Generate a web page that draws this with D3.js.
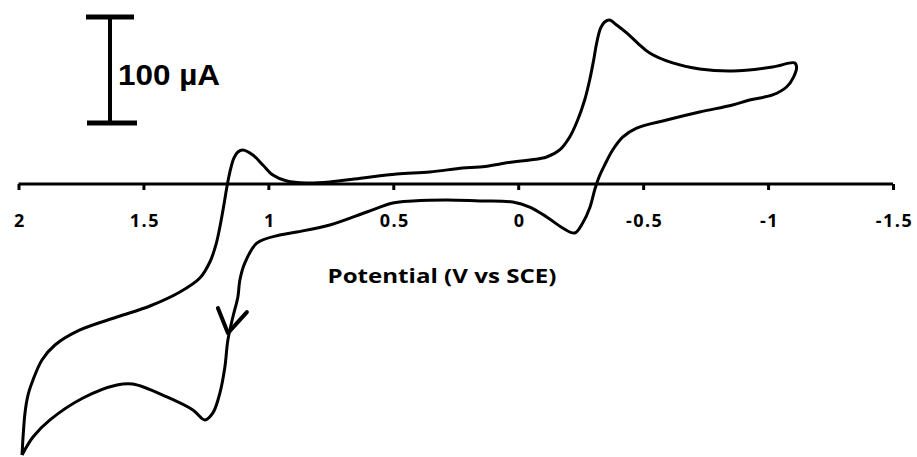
<!DOCTYPE html>
<html>
<head>
<meta charset="utf-8">
<script src="https://cdn.jsdelivr.net/npm/d3@7"></script>
<style>
  body { margin: 0; background: #fff; }
  svg { display: block; }
</style>
</head>
<body>
<div id="chart"></div>
<script>
// cyclic voltammogram (V vs SCE, µA)
const potential = [
  1.986, 1.974, 1.962, 1.942, 1.906, 1.854, 1.754, 1.606, 1.474, 1.354,
  1.274, 1.234, 1.210, 1.194, 1.178, 1.166, 1.154, 1.138, 1.122, 1.102,
  1.062, 1.022, 0.982, 0.926, 0.846, 0.754, 0.622, 0.486, 0.354, 0.222,
  0.154, 0.022, -0.046, -0.114, -0.166, -0.206, -0.238, -0.266, -0.286, -0.302,
  -0.314, -0.330, -0.346, -0.366, -0.394, -0.434, -0.478, -0.526, -0.618, -0.726,
  -0.858, -1.018, -1.106, -1.114, -1.102, -1.074, -1.018, -0.926, -0.858, -0.726,
  -0.594, -0.474, -0.418, -0.378, -0.346, -0.322, -0.306, -0.286, -0.258, -0.226,
  -0.178, -0.114, -0.046, 0.022, 0.154, 0.286, 0.422, 0.502, 0.606, 0.754,
  0.886, 0.954, 1.046, 1.094, 1.114, 1.122, 1.142, 1.162, 1.174, 1.194,
  1.222, 1.254, 1.302, 1.406, 1.542, 1.606, 1.742, 1.874, 1.942, 1.986
]
const current = [
  -255.7, -216.0, -199.1, -184.9, -166.0, -151.9, -137.7, -125.5, -115.1, -101.9,
  -88.7, -73.6, -57.5, -40.6, -19.8, -2.8, 11.3, 24.5, 30.2, 32.1,
  27.4, 17.9, 8.5, 2.8, 0.9, 1.9, 5.7, 9.4, 11.3, 15.1,
  16.0, 20.8, 22.6, 25.5, 32.1, 44.3, 60.4, 79.2, 98.1, 117.0,
  133.0, 147.2, 152.8, 154.7, 150.0, 142.5, 133.0, 123.6, 114.2, 108.5,
  106.6, 110.4, 114.2, 110.4, 100.9, 91.5, 84.0, 79.2, 74.5, 67.9,
  60.4, 52.8, 44.3, 32.1, 17.9, 5.7, -5.7, -22.6, -36.8, -46.2,
  -41.5, -31.1, -21.7, -17.0, -16.0, -15.1, -16.0, -17.9, -26.4, -38.7,
  -45.3, -48.1, -55.7, -74.5, -90.6, -106.6, -125.5, -147.2, -172.6, -197.2,
  -216.0, -222.6, -213.2, -200.9, -188.7, -189.6, -201.9, -222.6, -238.7, -255.7
]

const tickValues = [2, 1.5, 1, 0.5, 0, -0.5, -1, -1.5]
const tickLabels = ["2", "1.5", "1", "0.5", "0", "-0.5", "-1", "-1.5"]
const xTitle = "Potential (V vs SCE)"
const scaleBarLabel = "100 µA"
const scaleBarRange = [57.5, 157.5]   // µA
const arrowAt = [1.162, -140.6]       // V, µA

const width = 917
const height = 457

const svg = d3.select("#chart").append("svg")
  .attr("width", width)
  .attr("height", height)

const x = d3.scaleLinear().domain([2, -1.5]).range([18.5, 893])
const y = d3.scaleLinear().domain([0, 100]).range([184, 78])

// axis sits at zero current
const axis = svg.append("g")
  .attr("transform", `translate(0,${y(0)})`)
  .call(d3.axisBottom(x)
    .tickValues(tickValues)
    .tickSize(6)
    .tickSizeOuter(0)
    .tickFormat((d, i) => tickLabels[i]))

axis.select(".domain")
  .attr("d", `M${x(2)},0H${x(-1.5)}`)
  .attr("stroke", "#000")
  .attr("stroke-width", 3)
axis.selectAll(".tick line")
  .attr("stroke", "#000")
  .attr("stroke-width", 3)
axis.selectAll(".tick text")
  .attr("x", 1)
  .attr("y", 43)
  .attr("dy", 0)
  .attr("fill", "#000")
  .attr("font-family", "'Open Sans', Lato, sans-serif")
  .attr("font-weight", "bold")
  .attr("font-size", 18)
  .attr("letter-spacing", 1.5)

svg.append("text")
  .attr("x", 442)
  .attr("y", 283)
  .attr("text-anchor", "middle")
  .attr("font-family", "'Open Sans', Lato, sans-serif")
  .attr("font-weight", "bold")
  .attr("font-size", 19)
  .attr("textLength", 229)
  .attr("lengthAdjust", "spacingAndGlyphs")
  .text(xTitle)

// the voltammogram
const pts = potential.map((e, i) => [e, current[i]])
svg.append("path")
  .datum(pts)
  .attr("fill", "none")
  .attr("stroke", "#000")
  .attr("stroke-width", 3)
  .attr("stroke-linejoin", "round")
  .attr("d", d3.line()
    .x(d => x(d[0]))
    .y(d => y(d[1]))
    .curve(d3.curveCatmullRom.alpha(0.5)))

// scan direction arrow
const ax = x(arrowAt[0]), ay = y(arrowAt[1])
svg.append("path")
  .attr("fill", "none")
  .attr("stroke", "#000")
  .attr("stroke-width", 4)
  .attr("stroke-linecap", "round")
  .attr("stroke-linejoin", "round")
  .attr("d", `M${ax - 10},${ay - 25}L${ax},${ay}L${ax + 19},${ay - 21}`)

// 100 µA scale bar
const sb = svg.append("g").attr("stroke", "#000")
const barX = 110
sb.append("line")
  .attr("x1", barX).attr("x2", barX)
  .attr("y1", y(scaleBarRange[1])).attr("y2", y(scaleBarRange[0]))
  .attr("stroke-width", 4)
sb.append("line")
  .attr("x1", 86).attr("x2", 134)
  .attr("y1", y(scaleBarRange[1])).attr("y2", y(scaleBarRange[1]))
  .attr("stroke-width", 5)
sb.append("line")
  .attr("x1", 87).attr("x2", 137)
  .attr("y1", y(scaleBarRange[0])).attr("y2", y(scaleBarRange[0]))
  .attr("stroke-width", 5)

svg.append("text")
  .attr("x", 118)
  .attr("y", 85)
  .attr("font-family", "'Liberation Sans', Arial, sans-serif")
  .attr("font-weight", "bold")
  .attr("font-size", 30)
  .attr("textLength", 102)
  .attr("lengthAdjust", "spacingAndGlyphs")
  .text(scaleBarLabel)
</script>
</body>
</html>
